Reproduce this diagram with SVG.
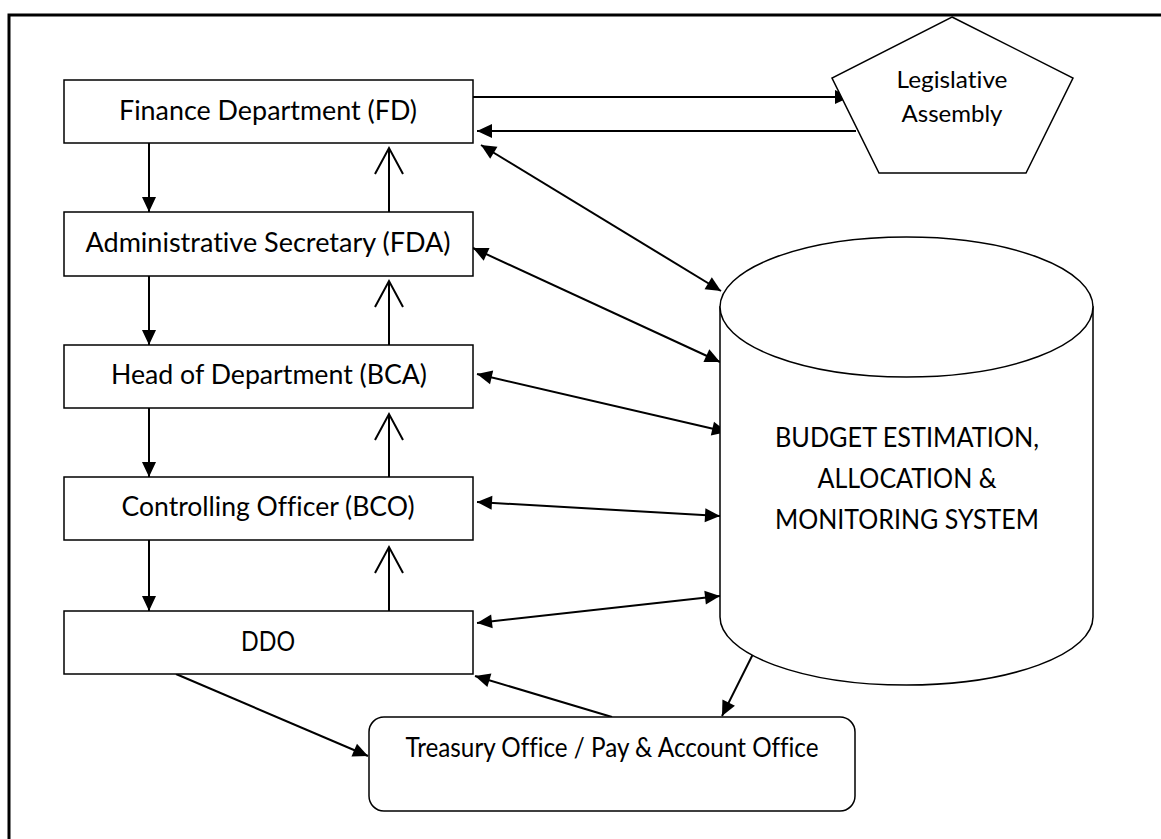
<svg xmlns="http://www.w3.org/2000/svg" width="1161" height="839" viewBox="0 0 1161 839">
<style>
.box{fill:#fff;stroke:#000;stroke-width:1.5}
.lbl{font-family:Lato,"Open Sans","Liberation Sans",sans-serif;font-size:27px;fill:#000;text-anchor:middle;font-variant-ligatures:none}
.sm{font-size:24px}
.c{fill:none;stroke:#000;stroke-width:2}
.frame{fill:none;stroke:#000;stroke-width:3}
</style>
<defs>
<marker id="ah" markerUnits="userSpaceOnUse" markerWidth="16" markerHeight="16" refX="15" refY="7" orient="auto-start-reverse" overflow="visible">
<path d="M0,0 L15,7 L0,14 z" fill="#000"/>
</marker>
<marker id="av" markerUnits="userSpaceOnUse" markerWidth="30" markerHeight="30" refX="26" refY="14" orient="auto" overflow="visible">
<path d="M0,0 L26,14 L0,28" fill="none" stroke="#000" stroke-width="2"/>
</marker>
</defs>
<rect class="frame" x="9" y="15" width="1200" height="900"/>
<g id="connectors">
<line class="c" x1="149" y1="143" x2="149" y2="212" marker-end="url(#ah)"/>
<line class="c" x1="149" y1="276" x2="149" y2="345" marker-end="url(#ah)"/>
<line class="c" x1="149" y1="408" x2="149" y2="477" marker-end="url(#ah)"/>
<line class="c" x1="149" y1="540" x2="149" y2="611" marker-end="url(#ah)"/>
<line class="c" x1="389" y1="212" x2="389" y2="148" marker-end="url(#av)"/>
<line class="c" x1="389" y1="345" x2="389" y2="281" marker-end="url(#av)"/>
<line class="c" x1="389" y1="477" x2="389" y2="414" marker-end="url(#av)"/>
<line class="c" x1="389" y1="611" x2="389" y2="547" marker-end="url(#av)"/>
<line class="c" x1="473" y1="97" x2="850" y2="97" marker-end="url(#ah)"/>
<line class="c" x1="856" y1="131" x2="477" y2="131" marker-end="url(#ah)"/>
<line class="c" x1="481" y1="145" x2="721" y2="291" marker-start="url(#ah)" marker-end="url(#ah)"/>
<line class="c" x1="473" y1="248" x2="720" y2="362" marker-start="url(#ah)" marker-end="url(#ah)"/>
<line class="c" x1="477" y1="374" x2="727" y2="432" marker-start="url(#ah)" marker-end="url(#ah)"/>
<line class="c" x1="477" y1="502" x2="720" y2="516" marker-start="url(#ah)" marker-end="url(#ah)"/>
<line class="c" x1="477" y1="623" x2="720" y2="596" marker-start="url(#ah)" marker-end="url(#ah)"/>
<line class="c" x1="176" y1="674" x2="368" y2="756" marker-end="url(#ah)"/>
<line class="c" x1="612" y1="717" x2="475" y2="676" marker-end="url(#ah)"/>
<line class="c" x1="753" y1="654" x2="722" y2="716" marker-end="url(#ah)"/>
</g>
<g id="fd">
<rect class="box" x="64" y="80" width="409" height="63"/>
<text class="lbl" x="268" y="120" textLength="298" lengthAdjust="spacingAndGlyphs">Finance Department (FD)</text>
</g>
<g id="admin">
<rect class="box" x="64" y="212" width="409" height="64"/>
<text class="lbl" x="268" y="252" textLength="365" lengthAdjust="spacingAndGlyphs">Administrative Secretary (FDA)</text>
</g>
<g id="hod">
<rect class="box" x="64" y="345" width="409" height="63"/>
<text class="lbl" x="269" y="384" textLength="316" lengthAdjust="spacingAndGlyphs">Head of Department (BCA)</text>
</g>
<g id="co">
<rect class="box" x="64" y="477" width="409" height="63"/>
<text class="lbl" x="268" y="516" textLength="293" lengthAdjust="spacingAndGlyphs">Controlling Officer (BCO)</text>
</g>
<g id="ddo">
<rect class="box" x="64" y="611" width="409" height="63"/>
<text class="lbl" x="268" y="651" textLength="54" lengthAdjust="spacingAndGlyphs">DDO</text>
</g>
<g id="legislative">
<polygon class="box" points="952,17 1073,78 1026,173 879,173 832,78"/>
<text class="lbl sm" x="952" y="88" textLength="111" lengthAdjust="spacingAndGlyphs">Legislative</text>
<text class="lbl sm" x="952" y="122" textLength="101" lengthAdjust="spacingAndGlyphs">Assembly</text>
</g>
<g id="budget">
<path class="box" d="M720,307 L720,617 A186.5,68 0 0 0 1093,617 L1093,307 Z"/>
<ellipse class="box" cx="906.5" cy="307" rx="186.5" ry="70"/>
<text class="lbl" x="907" y="447" textLength="264" lengthAdjust="spacingAndGlyphs">BUDGET ESTIMATION,</text>
<text class="lbl" x="907" y="488" textLength="179" lengthAdjust="spacingAndGlyphs">ALLOCATION &amp;</text>
<text class="lbl" x="907" y="529" textLength="264" lengthAdjust="spacingAndGlyphs">MONITORING SYSTEM</text>
</g>
<g id="treasury">
<rect class="box" x="369" y="717" width="486" height="94" rx="15" ry="15"/>
<text class="lbl" x="612" y="757" font-size="24" textLength="413" lengthAdjust="spacingAndGlyphs">Treasury Office / Pay &amp; Account Office</text>
</g>
</svg>
